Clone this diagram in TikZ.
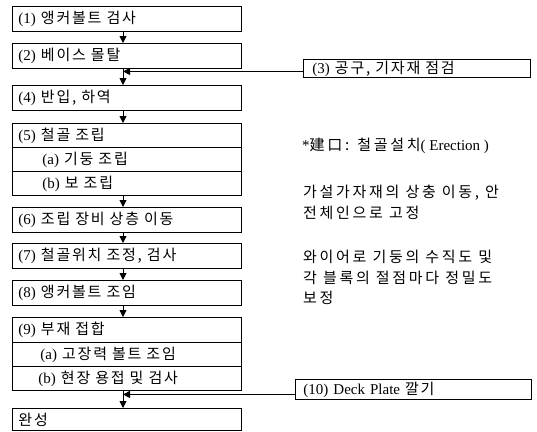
\documentclass[tikz,border=0pt]{standalone}
\usepackage{fontspec}
\setmainfont{Liberation Serif}
\newfontfamily\kr[WordSpace=2,LetterSpace=12]{Noto Sans CJK KR}
\newfontfamily\krn[WordSpace=1,LetterSpace=18]{Noto Sans CJK KR}
\newcommand\hk[1]{{\kr #1}}
\newcommand\hn[1]{{\krn #1}}
\usetikzlibrary{arrows.meta,calc}
\begin{document}
\begin{tikzpicture}[x=1pt,y=-1pt,
  every node/.style={font=\fontsize{15pt}{18pt}\selectfont},
  mbox/.style={draw,line width=0.9pt,anchor=north west,minimum width=229pt,
    text width=217pt,align=left,inner xsep=6pt,inner ysep=0pt},
  arr/.style={line width=0.9pt,-{Triangle[length=7pt,width=7pt]}},
  note/.style={anchor=west,inner sep=0pt}]
\useasboundingbox (0,0) rectangle (537,431);
\coordinate (ax) at (123,0);
% main column
\node[mbox,minimum height=25pt] (b1) at (12,6) {(1) \hk{앵커볼트 검사}};
\node[mbox,minimum height=25pt] (b2) at (12,43) {(2) \hk{베이스 몰탈}};
\node[mbox,minimum height=25pt] (b4) at (12,85) {(4) \hk{반입, 하역}};
\node[mbox,minimum height=24pt] (b5) at (12,123) {(5) \hk{철골 조립}};
\node[mbox,minimum height=24pt] (b5a) at (12,147) {\hspace*{24pt}(a) \hk{기둥 조립}};
\node[mbox,minimum height=24pt] (b5b) at (12,171) {\hspace*{24pt}(b) \hk{보 조립}};
\node[mbox,minimum height=25pt] (b6) at (12,207) {(6) \hk{조립 장비 상층 이동}};
\node[mbox,minimum height=25pt] (b7) at (12,243) {(7) \hk{철골위치 조정, 검사}};
\node[mbox,minimum height=25pt] (b8) at (12,280) {(8) \hk{앵커볼트 조임}};
\node[mbox,minimum height=25pt] (b9) at (12,317) {(9) \hk{부재 접합}};
\node[mbox,minimum height=24pt] (b9a) at (12,342) {\hspace*{22pt}(a) \hk{고장력 볼트 조임}};
\node[mbox,minimum height=24pt] (b9b) at (12,366) {\hspace*{20pt}(b) \hk{현장 용접 및 검사}};
\node[mbox,minimum height=22pt] (bend) at (12,408) {\hk{완성}};
% side boxes
\node[mbox,minimum width=227pt,minimum height=18pt,text width=209pt,inner xsep=9pt] (b3) at (303,59) {(3) \hk{공구, 기자재 점검}};
\node[mbox,minimum width=236pt,minimum height=20pt,text width=220pt,inner xsep=8pt] (b10) at (295,379) {(10) Deck Plate \hk{깔기}};
% connectors
\draw[arr] (b1.south -| ax) -- (b2.north -| ax);
\draw[arr] (b2.south -| ax) -- (b4.north -| ax);
\draw[arr] (b4.south -| ax) -- (b5.north -| ax);
\draw[arr] (b5b.south -| ax) -- (b6.north -| ax);
\draw[arr] (b6.south -| ax) -- (b7.north -| ax);
\draw[arr] (b7.south -| ax) -- (b8.north -| ax);
\draw[arr] (b8.south -| ax) -- (b9.north -| ax);
\draw[arr] (b9b.south -| ax) -- (bend.north -| ax);
\draw[arr] ([yshift=-3pt]b3.west) -- ([yshift=-3pt]b3.west -| ax);
\draw[arr] ([yshift=-5pt]b10.west) -- ([yshift=-5pt]b10.west -| ax);
% notes
\node[note] (n1) at (302,146) {*\hn{建口: 철골설치}( Erection )};
\node[note] (n2) at (303,193) {\hn{가설가자재의 상충 이동, 안}};
\node[note] (n3) at (303,213) {\hn{전체인으로 고정}};
\node[note] (n4) at (303,257) {\hn{와이어로 기둥의 수직도 및}};
\node[note] (n5) at (303,278) {\hn{각 블록의 절점마다 정밀도}};
\node[note] (n6) at (303,298) {\hn{보정}};
\end{tikzpicture}
\end{document}
